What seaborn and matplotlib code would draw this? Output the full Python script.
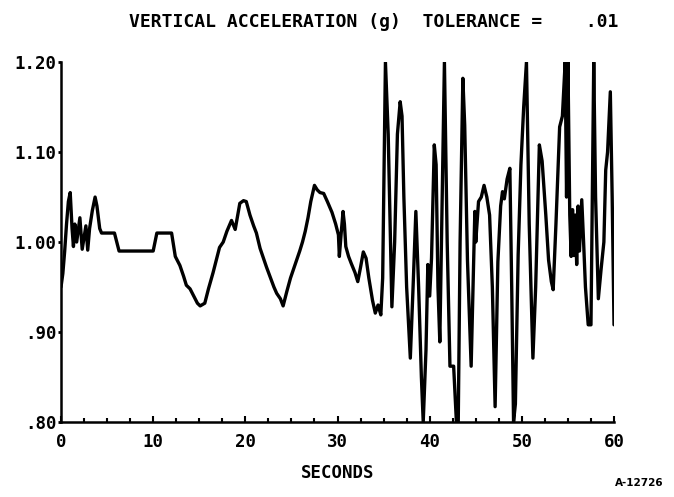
import numpy as np
import pandas as pd
import seaborn as sns
import matplotlib.pyplot as plt

# trace (seconds, g)
seconds = [0.0, 0.2, 0.4, 0.6, 0.8, 1.0, 1.2, 1.35, 1.5, 1.7, 1.9, 2.05, 2.3, 2.5, 2.7, 2.9,
           3.1, 3.4, 3.7, 3.9, 4.2, 4.4, 5.8, 6.3, 10.0, 10.4, 12.0, 12.4, 12.9, 13.3, 13.6,
           14.0, 14.4, 14.8, 15.1, 15.6, 16.0, 16.5, 16.9, 17.2, 17.6, 18.0, 18.5, 18.9,
           19.4, 19.8, 20.1, 20.5, 20.9, 21.2, 21.6, 21.9, 22.3, 22.7, 23.1, 23.4, 23.8,
           24.1, 24.5, 24.9, 25.4, 25.9, 26.2, 26.5, 26.8, 27.1, 27.5, 27.8, 28.1, 28.5,
           28.9, 29.4, 29.8, 30.1, 30.2, 30.4, 30.6, 30.75, 30.9, 31.2, 31.5, 31.9, 32.2,
           32.5, 32.8, 33.1, 33.4, 33.8, 34.1, 34.4, 34.7, 34.9, 35.2, 35.5, 35.9, 36.2,
           36.5, 36.8, 37.0, 37.2, 37.5, 37.9, 38.2, 38.5, 38.8, 39.1, 39.3, 39.6, 39.8,
           40.0, 40.2, 40.5, 40.7, 40.9, 41.1, 41.6, 41.9, 42.2, 42.6, 42.9, 43.1, 43.3,
           43.6, 43.8, 44.1, 44.5, 44.7, 44.9, 45.0, 45.3, 45.6, 45.9, 46.2, 46.5, 46.8,
           47.1, 47.4, 47.7, 47.9, 48.1, 48.4, 48.7, 48.9, 49.1, 49.3, 49.6, 49.9, 50.2,
           50.5, 50.8, 51.2, 51.5, 51.9, 52.2, 52.6, 52.9, 53.2, 53.4, 53.7, 54.1, 54.4,
           54.7, 54.85, 55.0, 55.2, 55.35, 55.5, 55.65, 55.8, 55.95, 56.1, 56.25, 56.5,
           56.7, 56.9, 57.2, 57.5, 57.65, 57.8, 58.0, 58.3, 58.6, 58.9, 59.1, 59.3, 59.6,
           59.8, 60.0]
accel = [0.95, 0.965, 0.99, 1.02, 1.045, 1.055, 1.015, 0.995, 1.02, 1.00, 1.015, 1.027, 0.992,
         1.005, 1.018, 0.991, 1.015, 1.035, 1.05, 1.04, 1.015, 1.01, 1.01, 0.99, 0.99, 1.01,
         1.01, 0.984, 0.974, 0.962, 0.952, 0.948, 0.94, 0.932, 0.929, 0.932, 0.948, 0.966,
         0.982, 0.994, 1.00, 1.012, 1.024, 1.014, 1.043, 1.046, 1.045, 1.03, 1.018, 1.01,
         0.993, 0.984, 0.972, 0.961, 0.95, 0.943, 0.937, 0.929, 0.945, 0.96, 0.975, 0.99,
         1.0, 1.012, 1.027, 1.045, 1.063, 1.058, 1.055, 1.054, 1.045, 1.033, 1.02, 1.008,
         0.984, 1.01, 1.034, 1.02, 0.995, 0.984, 0.976, 0.966, 0.956, 0.972, 0.989, 0.982,
         0.96, 0.935, 0.921, 0.93, 0.919, 0.96, 1.20, 1.12, 0.928, 1.0, 1.12, 1.156, 1.14,
         1.05, 0.95, 0.871, 0.95, 1.034, 0.95, 0.85, 0.80, 0.88, 0.975, 0.94, 0.982, 1.108,
         1.086, 0.95, 0.889, 1.20, 1.00, 0.862, 0.862, 0.80, 0.80, 1.00, 1.182, 1.13, 0.98,
         0.862, 0.95, 1.034, 1.0, 1.045, 1.05, 1.063, 1.05, 1.03, 0.95, 0.817, 0.978, 1.04,
         1.056, 1.048, 1.07, 1.082, 0.95, 0.80, 0.82, 0.986, 1.086, 1.15, 1.20, 1.02, 0.871,
         0.95, 1.108, 1.09, 1.03, 0.98, 0.956, 0.947, 1.02, 1.128, 1.14, 1.20, 1.05, 1.20,
         1.03, 0.984, 1.036, 0.985, 1.03, 0.975, 1.04, 0.99, 1.047, 1.00, 0.95, 0.908, 0.908,
         1.05, 1.20, 1.05, 0.937, 0.97, 1.00, 1.08, 1.10, 1.167, 1.05, 0.908]

x_ticks = [0, 10, 20, 30, 40, 50, 60]
y_ticks = [0.80, 0.90, 1.00, 1.10, 1.20]
y_labels = [".80", ".90", "1.00", "1.10", "1.20"]

df = pd.DataFrame({"t": seconds, "g": accel})

sns.set_style("ticks")
plt.rcParams['font.family'] = ['DejaVu Sans Mono', 'DejaVu Sans']
plt.rcParams['font.weight'] = 'bold'
for key in ['text.color', 'axes.labelcolor', 'xtick.color', 'ytick.color', 'axes.edgecolor']:
    plt.rcParams[key] = 'black'

fig = plt.figure(figsize=(6.74, 4.97), dpi=100)
ax = fig.add_axes([0.0905, 0.151, 0.8205, 0.724])

sns.lineplot(x="t", y="g", data=df, ax=ax, color="black", linewidth=2.4,
             estimator=None, sort=False)

ax.set_xlim(0, 60)
ax.set_ylim(0.80, 1.20)
ax.set_xticks(x_ticks)
ax.set_xticks(np.arange(0, 60.1, 2.5), minor=True)
ax.set_yticks(y_ticks)
ax.set_yticklabels(y_labels)
ax.tick_params(axis="x", which="major", direction="in", length=4, width=1.5,
               labelsize=12.5, pad=8)
ax.tick_params(axis="x", which="minor", direction="in", length=3, width=1.5)
ax.tick_params(axis="y", direction="out", length=2, width=2, labelsize=12.5, pad=1)
for lab in ax.get_xticklabels() + ax.get_yticklabels():
    lab.set_fontweight("bold")

sns.despine(ax=ax)
for s in ["left", "bottom"]:
    ax.spines[s].set_linewidth(1.8)

ax.set_xlabel("SECONDS", fontsize=12.5, fontweight="bold", labelpad=9)
ax.set_ylabel("")
fig.text(0.918, 0.955, "VERTICAL ACCELERATION (g)  TOLERANCE =    .01", ha="right",
         va="center", fontsize=13, fontweight="bold")
fig.text(0.985, 0.028, "A-12726", ha="right", va="center", fontsize=7.5,
         fontweight="bold", family="DejaVu Sans")

plt.savefig("out.png", dpi=100)
